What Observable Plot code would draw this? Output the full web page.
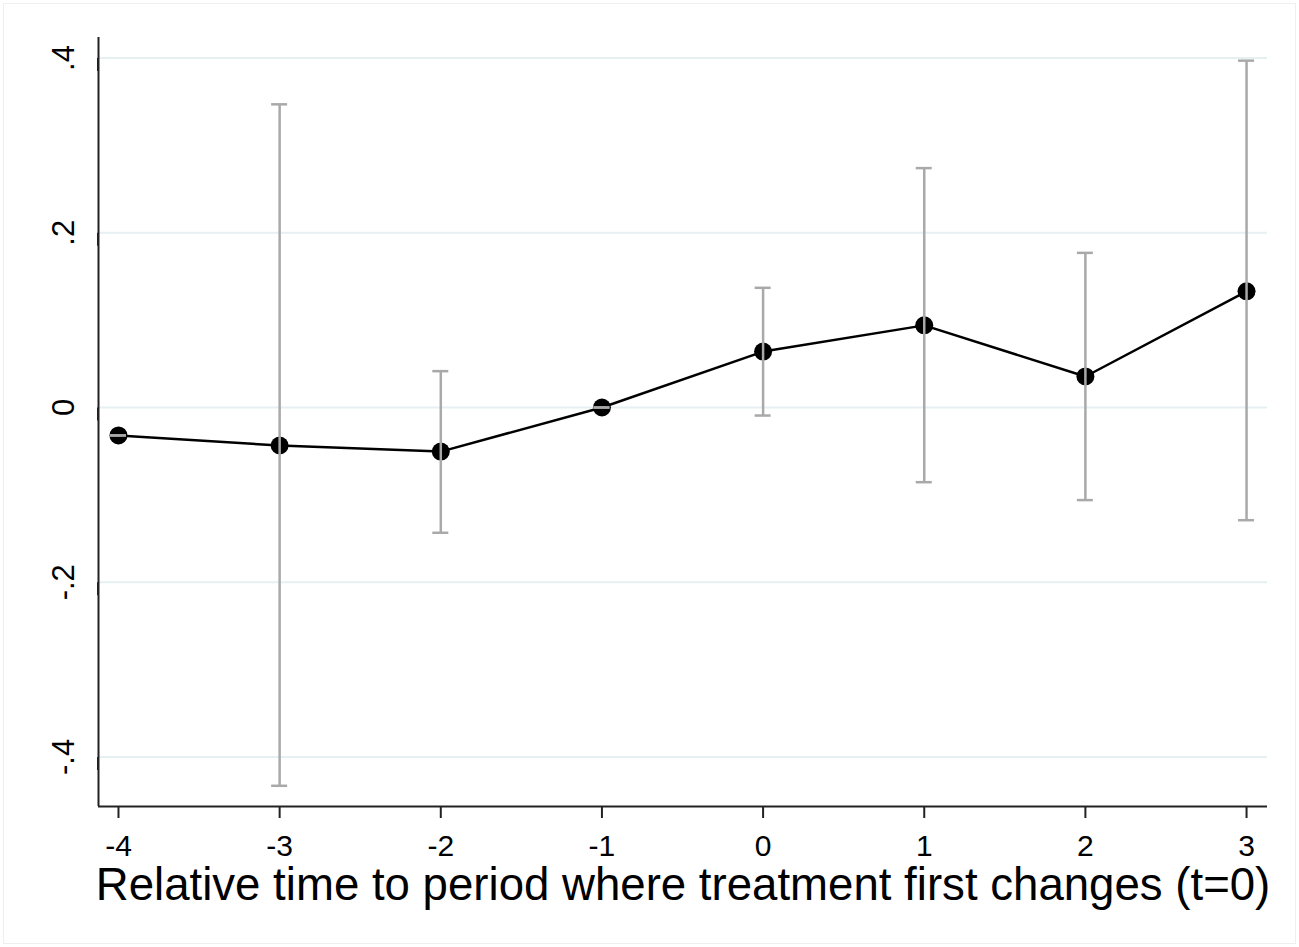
<!DOCTYPE html>
<html>
<head>
<meta charset="utf-8">
<script src="https://cdn.jsdelivr.net/npm/d3@7"></script>
<script src="https://cdn.jsdelivr.net/npm/@observablehq/plot@0.6"></script>
<style>
  html, body { margin: 0; padding: 0; background: #fff; }
  #wrap { position: relative; width: 1299px; height: 947px; }
  #border { position: absolute; left: 3px; top: 3px; right: 3px; bottom: 3px; border: 1px solid #efefef; pointer-events: none; }
</style>
</head>
<body>
<div id="wrap"><div id="border"></div></div>
<script>
const periods = [-4, -3, -2, -1, 0, 1, 2, 3];
const estimates = [-0.032, -0.0435, -0.0505, 0, 0.064, 0.094, 0.0355, 0.133];
const ciLower = [-0.032, -0.433, -0.1434, 0, -0.0092, -0.0855, -0.106, -0.129];
const ciUpper = [-0.032, 0.347, 0.0416, 0, 0.137, 0.274, 0.177, 0.397];
const yTicks = [-0.4, -0.2, 0, 0.2, 0.4];
const yTickLabels = ["-.4", "-.2", "0", ".2", ".4"];
const xTicks = [-4, -3, -2, -1, 0, 1, 2, 3];
const xTickLabels = ["-4", "-3", "-2", "-1", "0", "1", "2", "3"];
const xLabel = "Relative time to period where treatment first changes (t=0)";

const xDomain = [-4.124, 3.130];
const yDomain = [-0.4567, 0.4235];

const data = periods.map((t, i) => ({t, est: estimates[i], lo: ciLower[i], hi: ciUpper[i]}));

const chart = Plot.plot({
  width: 1299,
  height: 947,
  marginLeft: 98,
  marginRight: 32,
  marginTop: 37,
  marginBottom: 141,
  style: {fontFamily: "'Liberation Sans', Arial, sans-serif", background: "white", color: "black"},
  x: {domain: xDomain},
  y: {domain: yDomain},
  marks: [
    Plot.gridY(yTicks, {stroke: "#e6eff1", strokeOpacity: 1, strokeWidth: 2}),
    Plot.ruleX([xDomain[0]], {stroke: "#222", strokeWidth: 2}),
    Plot.ruleY([yDomain[0]], {stroke: "#222", strokeWidth: 2}),
    Plot.axisX({
      ticks: xTicks,
      tickFormat: d => xTickLabels[xTicks.indexOf(d)],
      tickSize: 12,
      tickPadding: 16,
      fontSize: 30,
      stroke: "#222",
      strokeWidth: 2,
      fill: "black",
      label: null
    }),
    Plot.axisY({
      ticks: yTicks,
      tickFormat: d => yTickLabels[yTicks.indexOf(d)],
      tickSize: 13,
      tickPadding: 12,
      fontSize: 31,
      rotate: -90,
      textAnchor: "middle",
      lineAnchor: "bottom",
      stroke: "#222",
      strokeWidth: 2,
      fill: "black",
      label: null
    }),
    Plot.line(data, {x: "t", y: "est", stroke: "black", strokeWidth: 2.5}),
    Plot.dot(data, {x: "t", y: "est", r: 9, fill: "black", stroke: "none"}),
    Plot.ruleX(data, {x: "t", y1: "lo", y2: "hi", stroke: "#a9a9a9", strokeWidth: 2.5}),
    Plot.ruleY(data, {y: "hi", x1: "t", x2: "t", insetLeft: -8, insetRight: -8, stroke: "#a9a9a9", strokeWidth: 2.5}),
    Plot.ruleY(data, {y: "lo", x1: "t", x2: "t", insetLeft: -8, insetRight: -8, stroke: "#a9a9a9", strokeWidth: 2.5}),
    Plot.text([xLabel], {text: d => d, frameAnchor: "bottom", dy: 93, lineAnchor: "bottom", fontSize: 45.6, fill: "black"})
  ]
});
document.getElementById("wrap").prepend(chart);
</script>
</body>
</html>
